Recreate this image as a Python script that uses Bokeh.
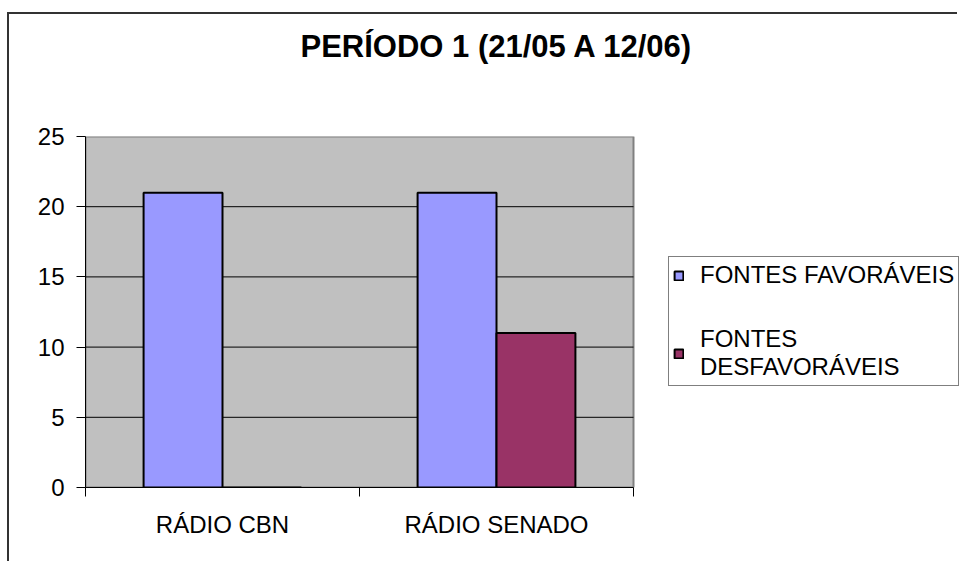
from bokeh.plotting import figure
from bokeh.models import (ColumnDataSource, Range1d, FixedTicker, LinearAxis,
                          Legend, LegendItem)
from bokeh.transform import dodge
from bokeh.embed import file_html
from bokeh.resources import INLINE

# ---- data ----
categories = ["RÁDIO CBN", "RÁDIO SENADO"]
series_names = ["FONTES FAVORÁVEIS", "FONTES\nDESFAVORÁVEIS"]
favoraveis = [21, 21]
desfavoraveis = [0, 11]
y_ticks = [0, 5, 10, 15, 20, 25]
title_text = "PERÍODO 1 (21/05 A 12/06)"

FONT = "Liberation Sans"
n = len(categories)
idx = [i + 0.5 for i in range(n)]
src = ColumnDataSource(dict(x=idx, cat=categories, fav=favoraveis, des=desfavoraveis))

# layout (page pixels): plot area spans x 85..633, frame extends to the canvas edge (959)
PLOT_LEFT, PLOT_RIGHT, CANVAS_RIGHT = 85, 633, 959
x_end = n * (CANVAS_RIGHT - PLOT_LEFT) / (PLOT_RIGHT - PLOT_LEFT)

p = figure(width=950, height=549, output_backend="svg", toolbar_location=None,
           x_range=Range1d(0, x_end), y_range=Range1d(y_ticks[0], y_ticks[-1]),
           x_axis_type=None, y_axis_type=None,
           min_border_left=76, min_border_right=0, min_border_top=122,
           min_border_bottom=76)
p.styles = {"border-top": "2px solid #333333", "border-left": "2px solid #333333",
            "margin-top": "12px", "margin-left": "7px"}

p.background_fill_color = "white"
p.border_fill_color = "white"
p.outline_line_color = None

# title (trailing blank lines lift the text towards the top of the chart area)
p.title.text = title_text + "\n \n "
p.title.text_font = FONT
p.title.text_font_size = "31px"
p.title.text_font_style = "bold"
p.title.text_color = "black"
p.title.text_line_height = 0.87
p.title.align = "left"
p.title.offset = 215
p.title.standoff = 24

# grey plot area and horizontal gridlines
p.quad(left=0, right=n, bottom=y_ticks[0], top=y_ticks[-1], fill_color="#C0C0C0",
       line_color="#808080", line_width=2, level="underlay")
p.segment(x0=0, x1=n, y0=y_ticks[1:-1], y1=y_ticks[1:-1], line_color="black",
          line_width=1, level="underlay")

# y axis
yaxis = LinearAxis(ticker=FixedTicker(ticks=y_ticks, minor_ticks=[]))
yaxis.axis_line_color = "black"
yaxis.major_tick_out = 9
yaxis.major_tick_in = 0
yaxis.major_tick_line_color = "black"
yaxis.major_label_text_font = FONT
yaxis.major_label_text_font_size = "24px"
yaxis.major_label_text_color = "black"
yaxis.major_label_standoff = 12
p.add_layout(yaxis, "left")

# x axis: labels at category centres, ticks at category boundaries
bounds = list(range(n + 1))
xaxis = LinearAxis(ticker=FixedTicker(ticks=idx, minor_ticks=bounds), bounds=(0, n))
xaxis.axis_line_color = "black"
xaxis.major_tick_out = 0
xaxis.major_tick_in = 0
xaxis.minor_tick_out = 9
xaxis.minor_tick_in = 0
xaxis.minor_tick_line_color = "black"
xaxis.major_label_overrides = {x: c for x, c in zip(idx, categories)}
xaxis.major_label_text_font = FONT
xaxis.major_label_text_font_size = "24px"
xaxis.major_label_text_color = "black"
xaxis.major_label_standoff = 14
p.add_layout(xaxis, "below")

r1 = p.vbar(x=dodge("x", -0.144, range=p.x_range), top="fav", width=0.288, source=src,
            fill_color="#9999FF", line_color="black", line_width=2)
r2 = p.vbar(x=dodge("x", 0.144, range=p.x_range), top="des", width=0.288, source=src,
            fill_color="#993366", line_color="black", line_width=2)

legend = Legend(items=[LegendItem(label=series_names[0], renderers=[r1]),
                       LegendItem(label=series_names[1], renderers=[r2])],
                location=(583, 101))
legend.label_text_font = FONT
legend.label_text_font_size = "24px"
legend.label_text_color = "black"
legend.label_text_line_height = 1.0
legend.glyph_width = 11
legend.glyph_height = 11
legend.label_standoff = 16
legend.padding = 4
legend.spacing = 36
legend.margin = 0
legend.border_line_color = "black"
legend.border_line_width = 1
legend.background_fill_color = "white"
legend.background_fill_alpha = 1
p.add_layout(legend, "center")

open("out.html", "w").write(file_html(p, INLINE))
